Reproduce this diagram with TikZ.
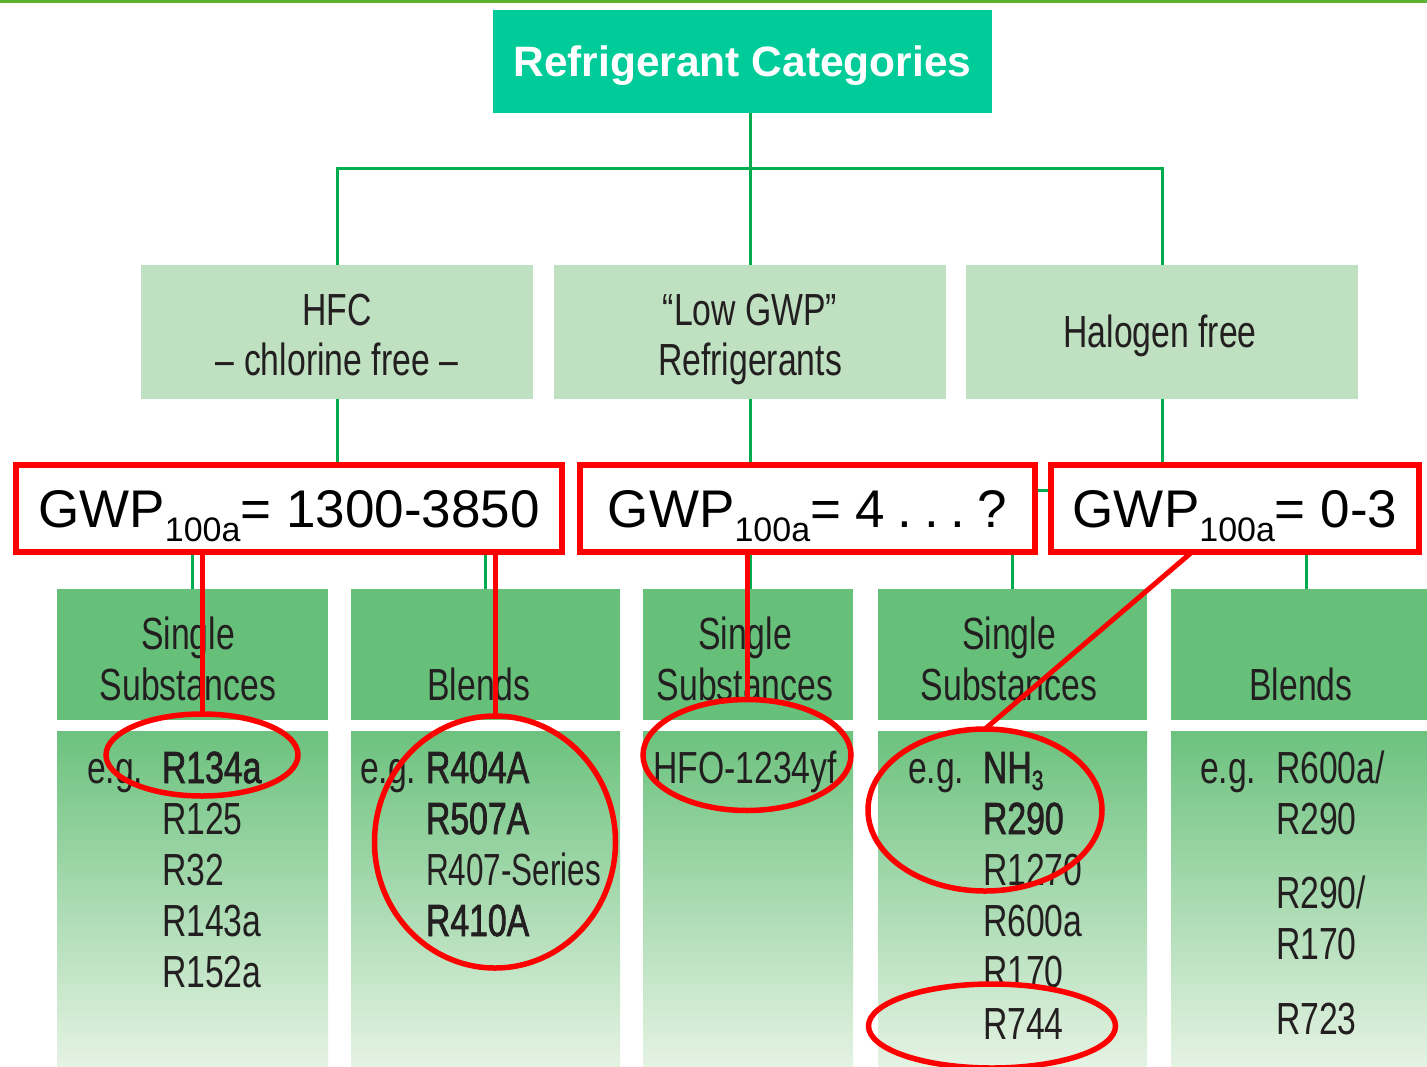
\documentclass[tikz,border=0pt]{standalone}
\usepackage{fontspec}
\setmainfont{Liberation Sans}
\newfontfamily\condfont[FakeStretch=0.75]{Liberation Sans}
\newfontfamily\condnarrow[FakeStretch=0.70]{Liberation Sans}
\newfontfamily\condsemi[FakeStretch=0.75,FakeBold=1.6]{Liberation Sans}
\usetikzlibrary{shapes.geometric,calc}

\definecolor{topgreen}{RGB}{94,178,50}
\definecolor{titlegreen}{RGB}{0,204,153}
\definecolor{linkgreen}{RGB}{0,172,78}
\definecolor{catgreen}{RGB}{191,224,193}
\definecolor{hdrgreen}{RGB}{102,192,122}
\definecolor{gradtop}{RGB}{108,194,126}
\definecolor{gradbot}{RGB}{230,243,228}
\definecolor{ink}{RGB}{35,31,32}
\definecolor{hilite}{RGB}{255,0,0}

\tikzset{
  every node/.style={inner sep=0pt, outer sep=0pt},
  link/.style={draw=linkgreen, line width=3pt},
  redline/.style={draw=hilite, line width=5pt},
  catbox/.style={fill=catgreen, minimum width=392, minimum height=134},
  hdrbox/.style={fill=hdrgreen, minimum height=131},
  listbox/.style={top color=gradtop, bottom color=gradbot, minimum height=339},
  gwpbox/.style={draw=hilite, line width=6pt, fill=white, minimum height=87,
    text height=38pt, text depth=0pt, font=\fontsize{53}{60}\selectfont},
  ring/.style={ellipse, draw=hilite, line width=5.5pt},
  lbl/.style={anchor=base, text=ink, font=\condfont\fontsize{45}{54}\selectfont},
  item/.style={anchor=base west, text=ink, font=\condfont\fontsize{45}{54}\selectfont},
  bitem/.style={anchor=base west, text=ink, font=\condsemi\fontsize{45}{54}\selectfont},
}
\newcommand\gwpsub{\raisebox{-14pt}{\fontsize{34}{40}\selectfont 100a}}
\newcommand\dotgap{\hspace{12pt}}

\begin{document}
\begin{tikzpicture}[x=1pt, y=-1pt]
\useasboundingbox (0,0) rectangle (1427,1066);

% top rule
\fill[topgreen] (0,0) rectangle (1427,3);

% root
\node[fill=titlegreen, minimum width=499, minimum height=103, text=white,
      text height=30.5pt, text depth=0pt,
      font=\bfseries\fontsize{42.5}{50}\selectfont] (title) at (742.5,61.5) {Refrigerant Categories};

% second level
\node[catbox] (hfc) at (337,332) {};
\node[catbox] (low) at (750,332) {};
\node[catbox] (hal) at (1162,332) {};

% third level: headers and lists
\node[hdrbox, minimum width=271] (h1) at (192.5,654.5) {};
\node[hdrbox, minimum width=269] (h2) at (485.5,654.5) {};
\node[hdrbox, minimum width=210] (h3) at (748,654.5) {};
\node[hdrbox, minimum width=269] (h4) at (1012.5,654.5) {};
\node[hdrbox, minimum width=270] (h5) at (1306,654.5) {};
\node[listbox, minimum width=271] (l1) at (192.5,900.5) {};
\node[listbox, minimum width=269] (l2) at (485.5,900.5) {};
\node[listbox, minimum width=210] (l3) at (748,900.5) {};
\node[listbox, minimum width=269] (l4) at (1012.5,900.5) {};
\node[listbox, minimum width=270] (l5) at (1306,900.5) {};

% tree connectors
\coordinate (hub) at ($(title.south -| low.north)+(0,55)$);
\draw[link] (title.south -| low.north) -- (low.north);
\draw[link] (hub) -| (hfc.north);
\draw[link] (hub) -| (hal.north);
\draw[link] (hfc.south) -- ++(0,91) coordinate (hfcfork);
\draw[link] (hfcfork) -| (h1.north);
\draw[link] (hfcfork) -| (h2.north);
\draw[link] (low.south) -- (low.south |- h3.north);
\draw[link] (hal.south) -- ++(0,91) coordinate (halfork);
\draw[link] (halfork) -| (h4.north);
\draw[link] (halfork) -| (h5.north);

% second-level labels
\node[lbl] (t-hfc1) at (337,325) {HFC};
\node[lbl] (t-hfc2) at (337,375) {– chlorine free –};
\node[lbl] (t-low1) at (750,325) {“Low GWP”};
\node[lbl] (t-low2) at (750,375) {Refrigerants};
\node[lbl] (t-hal) at (1160,347) {Halogen free};

% header labels
\node[lbl] (t-h1a) at (188,649) {Single};
\node[lbl] (t-h1b) at (188,700) {Substances};
\node[lbl] (t-h2) at (479,700) {Blends};
\node[lbl] (t-h3a) at (745,649) {Single};
\node[lbl] (t-h3b) at (745,700) {Substances};
\node[lbl] (t-h4a) at (1009,649) {Single};
\node[lbl] (t-h4b) at (1009,700) {Substances};
\node[lbl] (t-h5) at (1301,700) {Blends};

% HFC single substances
\node[item] (eg1) at (87,783) {e.g.};
\node[bitem] (r134a) at (162,783) {R134a};
\node[item] (r125) at (162,834) {R125};
\node[item] (r32) at (162,885) {R32};
\node[item] (r143a) at (162,936) {R143a};
\node[item] (r152a) at (162,987) {R152a};

% HFC blends
\node[item] (eg2) at (360,783) {e.g.};
\node[bitem] (r404a) at (426,783) {R404A};
\node[bitem] (r507a) at (426,834) {R507A};
\node[item, font=\condnarrow\fontsize{45}{54}\selectfont] (r407) at (426,885) {R407-Series};
\node[bitem] (r410a) at (426,936) {R410A};

% low GWP single substance
\node[lbl] (hfo) at (745,783) {HFO-1234yf};

% halogen-free single substances
\node[item] (eg4) at (908,783) {e.g.};
\node[bitem] (nh3) at (983,783) {NH\raisebox{-7pt}{\fontsize{28}{30}\selectfont 3}};
\node[bitem] (r290) at (983,834) {R290};
\node[item] (r1270) at (983,885) {R1270};
\node[item] (r600a) at (983,936) {R600a};
\node[item] (r170) at (983,987) {R170};
\node[item] (r744) at (983,1039) {R744};

% halogen-free blends
\node[item] (eg5) at (1200,783) {e.g.};
\node[item] (b1a) at (1276,783) {R600a/};
\node[item] (b1b) at (1276,834) {R290};
\node[item] (b2a) at (1276,908) {R290/};
\node[item] (b2b) at (1276,959) {R170};
\node[item] (b3) at (1276,1034) {R723};

% GWP ranges
\node[gwpbox, minimum width=546] (g1) at (289,508.5) {GWP\gwpsub= 1300-3850};
\node[gwpbox, minimum width=455] (g2) at (807.5,508.5) {GWP\gwpsub= 4\dotgap.\dotgap.\dotgap.\dotgap?};
\node[gwpbox, minimum width=368] (g3) at (1235,508.5) {GWP\gwpsub= 0-3};

% highlight rings
\node[ring, minimum width=192, minimum height=82] (e1) at (202,755) {};
\node[ring, minimum width=241, minimum height=252] (e2) at (495,842) {};
\node[ring, minimum width=208, minimum height=111] (e3) at (747,755) {};
\node[ring, minimum width=234, minimum height=162] (e4) at (985,810) {};
\node[ring, minimum width=247, minimum height=84] (e5) at (992,1026) {};

% highlight leaders
\draw[redline] (e1.north) -- (e1.north |- g1.south);
\draw[redline] (e2.north) -- (e2.north |- g1.south);
\draw[redline] (e3.north) -- (e3.north |- g2.south);
\draw[redline] ([xshift=-43pt]g3.south) -- (e4.north);
\end{tikzpicture}
\end{document}
